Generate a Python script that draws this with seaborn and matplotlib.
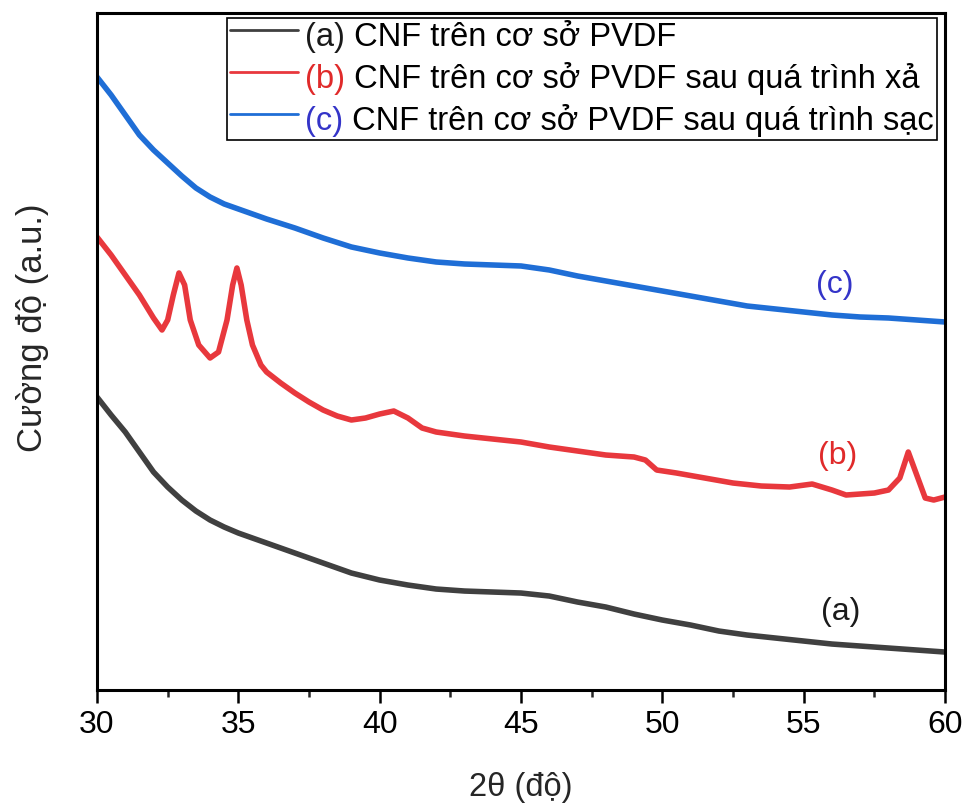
import matplotlib
matplotlib.use("Agg")
import matplotlib.pyplot as plt
from matplotlib.lines import Line2D
from matplotlib.offsetbox import AnchoredOffsetbox, DrawingArea, HPacker, TextArea, VPacker
from matplotlib.ticker import MultipleLocator
import pandas as pd
import seaborn as sns

# 2-theta positions and intensities (a.u.) of the three XRD patterns
theta_a = [30.0, 30.5, 31.0, 31.5, 32.0, 32.5, 33.0, 33.5, 34.0, 34.5, 35.0, 35.5,
           36.0, 37.0, 38.0, 39.0, 40.0, 41.0, 42.0, 43.0, 44.0, 45.0, 46.0, 47.0,
           48.0, 49.0, 50.0, 51.0, 52.0, 53.0, 54.0, 55.0, 56.0, 57.0, 58.0, 59.0, 60.0]
int_a = [293, 275, 258, 238, 218, 203, 190, 179, 170, 163, 157, 152,
         147, 137, 127, 117, 110, 105, 101, 99, 98, 97, 94, 88,
         83, 76, 70, 65, 59, 55, 52, 49, 46, 44, 42, 40, 38]

theta_b = [30.0, 30.5, 31.0, 31.5, 32.0, 32.3, 32.5, 32.7, 32.9, 33.1, 33.3, 33.6,
           34.0, 34.3, 34.6, 34.8, 34.95, 35.1, 35.3, 35.5, 35.8, 36.0, 36.5, 37.0,
           37.5, 38.0, 38.5, 39.0, 39.5, 40.0, 40.5, 41.0, 41.5, 42.0, 43.0, 44.0,
           45.0, 46.0, 47.0, 48.0, 49.0, 49.4, 49.8, 50.5, 51.5, 52.5, 53.5, 54.5,
           55.3, 56.0, 56.5, 57.0, 57.5, 58.0, 58.4, 58.7, 59.0, 59.3, 59.6, 60.0]
int_b = [453, 435, 415, 395, 372, 360, 370, 395, 417, 405, 370, 345,
         332, 338, 370, 405, 422, 405, 370, 345, 325, 318, 307, 297,
         288, 280, 274, 270, 272, 276, 279, 272, 262, 258, 254, 251,
         248, 243, 239, 235, 233, 230, 220, 217, 212, 207, 204, 203,
         206, 200, 195, 196, 197, 200, 212, 238, 215, 192, 190, 193]

theta_c = [30.0, 30.5, 31.0, 31.5, 32.0, 32.5, 33.0, 33.5, 34.0, 34.5, 35.0, 35.5,
           36.0, 37.0, 38.0, 39.0, 40.0, 41.0, 42.0, 43.0, 44.0, 45.0, 46.0, 47.0,
           48.0, 49.0, 50.0, 51.0, 52.0, 53.0, 54.0, 55.0, 56.0, 57.0, 58.0, 59.0, 60.0]
int_c = [613, 595, 575, 555, 540, 527, 514, 502, 493, 486, 481, 476,
         471, 462, 452, 443, 437, 432, 428, 426, 425, 424, 420, 414,
         409, 404, 399, 394, 389, 384, 381, 378, 375, 373, 372, 370, 368]

series_keys = ["a", "b", "c"]
series_prefix = ["(a)", "(b)", "(c)"]
series_rest = [" CNF trên cơ sở PVDF",
               " CNF trên cơ sở PVDF sau quá trình xả",
               " CNF trên cơ sở PVDF sau quá trình sạc"]
line_colors = {"a": "#404040", "b": "#e8383d", "c": "#1f6ed6"}
tag_colors = {"a": "#1a1a1a", "b": "#e02a2a", "c": "#3434c8"}
tag_pos = {"a": (56.3, 78), "b": (56.2, 234), "c": (56.1, 405)}

frames = []
for key, th, iv in zip(series_keys, [theta_a, theta_b, theta_c], [int_a, int_b, int_c]):
    frames.append(pd.DataFrame({"theta": th, "intensity": iv, "sample": key}))
df = pd.concat(frames, ignore_index=True)

sns.set_style("white")
plt.rcParams["font.family"] = ["Liberation Sans", "DejaVu Sans"]

fig = plt.figure(figsize=(9.65, 8.1), dpi=100)
ax = fig.add_axes([0.1005, 0.1481, 0.8788, 0.8359])

sns.lineplot(data=df, x="theta", y="intensity", hue="sample", palette=line_colors,
             estimator=None, sort=False, linewidth=4.0, legend=False, ax=ax)

ax.set_xlim(30, 60)
ax.set_ylim(0, 677)
ax.xaxis.set_major_locator(MultipleLocator(5))
ax.xaxis.set_minor_locator(MultipleLocator(2.5))
ax.set_yticks([])
ax.tick_params(axis="x", which="major", direction="out", length=9.5, width=1.8,
               labelsize=23, pad=5, colors="black", bottom=True)
ax.tick_params(axis="x", which="minor", direction="out", length=5, width=1.8, bottom=True)
for sp in ax.spines.values():
    sp.set_visible(True)
    sp.set_color("black")
    sp.set_linewidth(2.2)

ax.set_xlabel("2θ (độ)", fontsize=23.5, labelpad=23)
ax.set_ylabel("Cường độ (a.u.)", fontsize=25)
ax.yaxis.set_label_coords(-0.056, 0.535)

# sample tags next to each curve
for key, pref in zip(series_keys, series_prefix):
    x, y = tag_pos[key]
    ax.text(x, y, pref, color=tag_colors[key], fontsize=23, ha="center", va="center")

# legend rows: line handle, coloured sample tag, black description
LEG_FS = 23.5
rows = []
for key, pref, rest in zip(series_keys, series_prefix, series_rest):
    da = DrawingArea(49, 20, 0, 3)
    da.add_artist(Line2D([0, 49], [11.5, 11.5], color=line_colors[key], linewidth=2))
    t1 = TextArea(pref, textprops=dict(color=tag_colors[key], fontsize=LEG_FS))
    t2 = TextArea(rest, textprops=dict(color="black", fontsize=LEG_FS))
    label = HPacker(children=[t1, t2], align="baseline", pad=0, sep=0)
    rows.append(HPacker(children=[da, label], align="baseline", pad=0, sep=5))
box = VPacker(children=rows, align="left", pad=0, sep=6.5)
anchored = AnchoredOffsetbox(loc="upper right", child=box, pad=0.1, borderpad=0,
                             frameon=True, prop=dict(size=LEG_FS),
                             bbox_to_anchor=(0.9906, 0.992), bbox_transform=ax.transAxes)
anchored.patch.set_edgecolor("black")
anchored.patch.set_linewidth(1.2)
anchored.patch.set_facecolor("white")
anchored.set_zorder(5)
ax.add_artist(anchored)

fig.savefig("out.png", dpi=100)
